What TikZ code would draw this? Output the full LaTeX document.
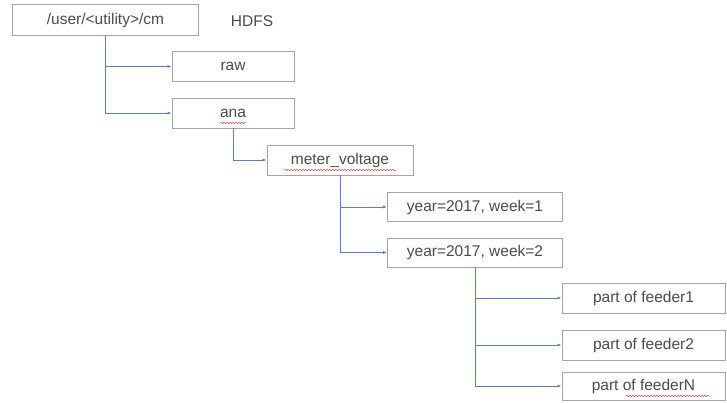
\documentclass[tikz,border=0pt]{standalone}
\usepackage{fontspec}
\setmainfont{Liberation Sans}
\usetikzlibrary{arrows.meta,decorations.pathmorphing}
\definecolor{boxc}{RGB}{165,165,165}
\definecolor{linec}{RGB}{95,125,195}
\definecolor{txtc}{RGB}{75,75,75}
\begin{document}
\begin{tikzpicture}[x=1pt,y=-1pt,
  box/.style={draw=boxc,line width=0.9pt,inner sep=0pt,text=txtc,font=\fontsize{15.5}{17}\selectfont},
  conn/.style={draw=linec,line width=1pt,-{Latex[length=4pt,width=3pt]}},
  trunk/.style={draw=linec,line width=1pt},
  squig/.style={draw=red!80,line width=0.5pt,decorate,decoration={snake,amplitude=0.6pt,segment length=3pt}}]
\useasboundingbox (0,0) rectangle (727,402);
\fill[white] (0,0) rectangle (727,402);
\node[box,minimum width=186pt,minimum height=31pt] (root) at (105.5,20) {/user/<utility>/cm};
\node[text=txtc,font=\fontsize{15.5}{17}\selectfont] (hdfs) at (252,21) {HDFS};
\node[box,minimum width=122pt,minimum height=30pt] (raw) at (233,66.5) {raw};
\node[box,minimum width=122pt,minimum height=30pt] (ana) at (233,113) {ana};
\node[box,minimum width=146pt,minimum height=30pt] (meter) at (340,160) {meter\_voltage};
\node[box,minimum width=175pt,minimum height=29pt] (y1) at (475,207) {year=2017, week=1};
\node[box,minimum width=175pt,minimum height=29pt] (y2) at (475,252.5) {year=2017, week=2};
\node[box,minimum width=163pt,minimum height=30pt] (f1) at (643.5,298) {part of feeder1};
\node[box,minimum width=163pt,minimum height=30pt] (f2) at (643.5,345) {part of feeder2};
\node[box,minimum width=163pt,minimum height=28pt] (fN) at (643.5,386) {part of feederN};
% trunk branch points
\coordinate (b1) at (root.south |- raw.west);
\coordinate (b2) at (meter.south |- y1.west);
\coordinate (b3) at (y2.south |- f1.west);
\coordinate (b4) at (y2.south |- f2.west);
% connectors
\draw[conn] (root.south) |- (ana.west);
\draw[conn] (b1) -- (raw.west);
\draw[conn] (ana.south) |- (meter.west);
\draw[conn] (meter.south) |- (y2.west);
\draw[conn] (b2) -- (y1.west);
\draw[conn] (y2.south) |- (fN.west);
\draw[conn] (b3) -- (f1.west);
\draw[conn] (b4) -- (f2.west);
% spell-check squiggles
\draw[squig] (220,123) -- (246,123);
\draw[squig] (284,170) -- (396,170);
\draw[squig] (626,396) -- (710,396);
\end{tikzpicture}
\end{document}
